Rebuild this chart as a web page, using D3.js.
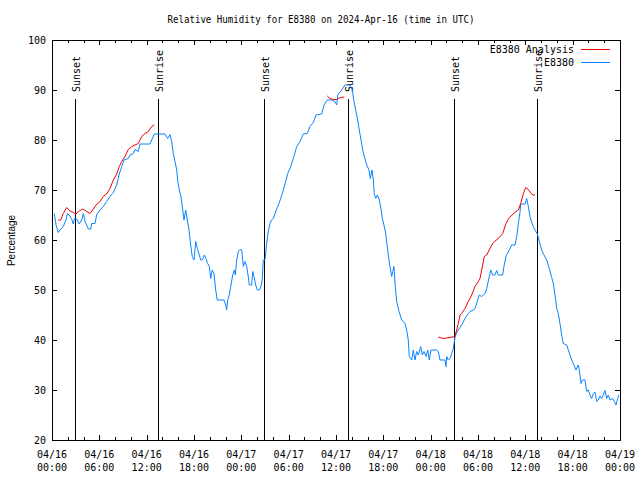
<!DOCTYPE html>
<html>
<head>
<meta charset="utf-8">
<script src="https://cdn.jsdelivr.net/npm/d3@7"></script>
<style>
  html, body { margin: 0; padding: 0; background: #fff; }
  svg { display: block; }
  text { font-family: "DejaVu Sans Mono", "Liberation Mono", monospace; font-size: 10px; fill: #000; }
</style>
</head>
<body>
<svg id="chart" width="640" height="480"></svg>
<script>
// ---------- DATA ----------
const chartTitle = "Relative Humidity for E8380 on 2024-Apr-16 (time in UTC)";
const yTitle = "Percentage";
const seriesNames = ["E8380 Analysis", "E8380"];
const startUTC = Date.UTC(2024, 3, 16, 0, 0);
const endUTC = Date.UTC(2024, 3, 19, 0, 0);
const yTicks = [20, 30, 40, 50, 60, 70, 80, 90, 100];

// observations: hours after 04/16 00:00 UTC, RH %
const obsHours = [0.29,0.51,0.80,1.01,1.43,1.77,1.94,2.19,2.50,2.70,2.83,3.13,3.46,3.76,3.97,4.18,4.40,4.60,4.91,5.03,5.45,5.67,6.08,6.50,6.93,7.35,7.77,8.20,8.49,8.84,9.13,9.67,9.89,10.31,10.52,10.94,11.15,12.42,12.64,12.97,14.32,14.66,14.96,15.17,15.38,15.59,15.81,15.93,16.14,16.35,16.52,16.73,16.95,17.15,17.37,17.58,17.78,18.00,18.22,18.42,18.67,18.85,19.10,19.31,19.52,19.74,19.94,20.12,20.32,20.53,20.75,20.95,21.80,22.02,22.14,22.27,22.47,22.69,22.91,23.11,23.24,23.41,23.62,23.83,24.05,24.25,24.46,24.68,24.88,25.01,25.31,25.44,25.61,25.82,26.02,26.28,26.49,26.66,26.78,27.00,27.21,27.42,27.63,27.82,28.05,28.43,28.77,29.03,29.32,29.62,29.88,30.17,30.59,31.02,31.44,31.85,32.36,32.70,33.12,33.46,34.19,34.48,34.90,35.45,35.87,36.09,36.21,36.72,37.14,37.77,38.07,38.28,38.53,38.75,38.95,39.17,39.38,39.59,39.89,40.18,40.35,40.56,40.73,40.85,41.03,41.24,41.49,41.70,41.87,42.08,42.30,42.50,42.68,42.84,43.06,43.19,43.35,43.48,43.69,43.99,44.33,44.75,44.96,45.16,45.29,45.60,45.80,46.01,46.23,46.43,46.74,46.94,47.15,47.41,47.62,47.83,48.04,48.76,48.97,49.18,49.82,49.94,50.03,50.23,50.45,50.67,50.87,51.08,51.30,51.50,51.93,52.35,52.77,52.98,53.40,53.62,53.83,54.16,54.47,54.89,55.10,55.43,55.61,55.86,56.15,56.37,56.57,57.13,57.29,57.55,57.97,58.27,58.69,58.91,59.11,59.32,59.41,59.96,60.17,60.38,60.59,60.81,61.01,61.23,61.52,61.77,62.07,62.37,62.71,63.04,63.34,63.55,63.76,63.98,64.18,64.39,64.61,64.81,65.24,65.45,65.66,65.88,66.08,66.42,66.71,66.84,67.06,67.22,67.56,67.78,67.98,68.20,68.41,68.62,68.83,69.05,69.25,69.46,69.68,69.88,70.10,70.31,70.52,70.73,71.07,71.28,71.49,71.70,71.87];
const obsRH = [65.3,63,61.5,62,62.7,64,65.3,65,64.1,63.2,64.3,64.2,63.2,64,65.3,63.7,63,62.2,62.2,63.3,63.3,65.1,66,66.7,67.7,68.7,69.5,71,73,74.7,76,76.3,77,77.3,78.1,77.7,79.2,79.2,80,81.2,81.2,80.3,81.1,79.7,77.3,75.7,74,72,70,68.7,66.7,64,66,64,62,59,56.7,56,59.7,58.3,57,56,56.1,57,56.3,55.3,54.7,52.3,54,53.3,50,48,48,47,46,48,49,51,53,54,53,56,57.7,58.1,58,54.7,55.7,54.7,52.7,51,51,53.7,52.7,51,50,50,50.7,52.3,56,56,59.3,61.8,63.3,64,64.3,66,67.3,68.5,70,71.7,73.3,74.3,76.3,78.7,79.7,81.2,81.3,82.7,83.5,85,85.2,87,88,88,87.7,87,89,90,91,91,90,87.7,85.7,84,82,80,78,76.7,75,74,72.3,74,72,69.3,68.3,69,68,66.3,64.3,63,61.3,58.7,56.3,54.7,52.7,53.7,54.7,51.3,47.7,45.7,44,43.3,42,40,36.7,36,38,36,37.7,37,38.7,37,37.7,36.7,38,36,38,38,37.7,36,36,34.7,36.7,36,36.3,37.3,38.3,40.5,41.5,42,43,44.3,45.3,45.7,46,46.3,47.3,49,48.7,49.3,50.3,52.7,54,53,53,53.9,53,53,54.7,56.8,58,59,59,60.7,63.3,65.5,67.2,67.2,68.3,66.7,64.7,63.5,62.7,62,61.2,59.7,58,57,56,54.3,52.5,51.3,49,46.3,45.3,43.3,41,39.3,39,38,37,36,35.3,34,35,34,31.3,32,32,29.7,30,29,28.3,29.3,29.6,27.7,28,28.8,28.3,29,29.9,28.3,29,28,28.3,27.7,27,28.3,29];

// analysis: three separate runs
const anaHours1 = [0.80,1.10,1.43,1.86,2.28,2.70,3.04,3.46,3.89,4.31,4.82,5.16,5.58,6.08,6.50,6.93,7.35,7.77,8.20,8.53,8.84,9.25,9.67,10.10,10.52,10.94,11.37,11.79,12.21,12.64,12.97];
const anaRH1 = [64,64,65.3,66.5,65.8,65.5,65.2,65.8,66.2,65.8,65.3,66,67,67.7,68.7,69.2,70.3,72,73.2,74.7,75.7,76.7,78.1,78.7,79,79.3,80.7,81.3,81.7,82.7,83];
const anaHours2 = [34.90,35.24,35.66,36.09,36.51,37.05];
const anaRH2 = [88.8,88.3,88.1,88.1,88.5,88.6];
const anaHours3 = [48.97,49.60,50.45,51.05,51.30,51.50,51.72,51.93,52.35,52.77,53.20,53.62,54.04,54.25,54.47,54.80,55.10,55.52,55.94,56.57,57.13,57.55,57.97,58.69,59.11,59.41,59.75,60.05,60.38,60.72,61.01,61.23];
const anaRH3 = [40.6,40.3,40.5,40.7,42,43.3,45,45.3,46.3,47.7,49,50.7,51.7,52.3,54,56.7,57,58.3,59.5,60.3,61.3,63.3,64.5,65.5,66,67.3,69.3,70.5,70.1,69.3,69,69];

// sun events: hours after 04/16 00:00 UTC
const sunLabels = ["Sunset", "Sunrise", "Sunset", "Sunrise", "Sunset", "Sunrise"];
const sunHours = [2.92, 13.48, 26.92, 37.55, 51.0, 61.52];
const sunLineTop = 88.2;

const colors = ["#f00000", "#0a84ff"];

// ---------- CHART ----------
const svg = d3.select("#chart");
const M = { left: 52, right: 620, top: 40, bottom: 440 };
const toDate = h => new Date(startUTC + h * 3600e3);

const x = d3.scaleUtc().domain([new Date(startUTC), new Date(endUTC)]).range([M.left, M.right]);
const y = d3.scaleLinear().domain([20, 100]).range([M.bottom, M.top]);

// title
svg.append("text").attr("x", 321).attr("y", 23).attr("text-anchor", "middle")
  .attr("textLength", 307).attr("lengthAdjust", "spacingAndGlyphs").text(chartTitle);

// y title
svg.append("text").attr("transform", `translate(15,${(M.top + M.bottom) / 2 + 0.5}) rotate(-90)`)
  .attr("text-anchor", "middle").style("font-family", "'Liberation Sans', Arial, sans-serif")
  .text(yTitle);

// ticks
const majorT = x.ticks(d3.utcHour.every(6));
const minorT = x.ticks(d3.utcHour.every(2)).filter(d => d.getUTCHours() % 6 !== 0);

const gx = svg.append("g").attr("transform", `translate(0,${M.bottom})`)
  .call(d3.axisBottom(x).tickValues(majorT).tickSize(-5).tickSizeOuter(0).tickFormat(""));
gx.select(".domain").remove();
const gxm = svg.append("g").attr("transform", `translate(0,${M.bottom})`)
  .call(d3.axisBottom(x).tickValues(minorT).tickSize(-3).tickSizeOuter(0).tickFormat(""));
gxm.select(".domain").remove();
const gxt = svg.append("g").attr("transform", `translate(0,${M.top})`)
  .call(d3.axisTop(x).tickValues(majorT).tickSize(-5).tickSizeOuter(0).tickFormat(""));
gxt.select(".domain").remove();
const gxtm = svg.append("g").attr("transform", `translate(0,${M.top})`)
  .call(d3.axisTop(x).tickValues(minorT).tickSize(-3).tickSizeOuter(0).tickFormat(""));
gxtm.select(".domain").remove();

const fmtD = d3.utcFormat("%m/%d"), fmtH = d3.utcFormat("%H:%M");
const xl = svg.append("g");
majorT.forEach(d => {
  xl.append("text").attr("x", x(d)).attr("y", 457.5).attr("text-anchor", "middle").text(fmtD(d));
  xl.append("text").attr("x", x(d)).attr("y", 470.5).attr("text-anchor", "middle").text(fmtH(d));
});

const gy = svg.append("g").attr("transform", `translate(${M.left},0)`)
  .call(d3.axisLeft(y).tickValues(yTicks).tickSize(-5).tickSizeOuter(0).tickFormat(""));
gy.select(".domain").remove();
const gyr = svg.append("g").attr("transform", `translate(${M.right},0)`)
  .call(d3.axisRight(y).tickValues(yTicks).tickSize(-5).tickSizeOuter(0).tickFormat(""));
gyr.select(".domain").remove();
yTicks.forEach(v => {
  svg.append("text").attr("x", 46).attr("y", y(v) + 3.5).attr("text-anchor", "end").text(v);
});
svg.selectAll(".tick line").attr("stroke", "#000").attr("shape-rendering", "crispEdges");

// sun lines
sunHours.forEach((h, i) => {
  const px = Math.round(x(toDate(h))) + 0.5;
  svg.append("line").attr("x1", px).attr("x2", px).attr("y1", y(sunLineTop)).attr("y2", M.bottom)
    .attr("stroke", "#000").attr("stroke-width", 1).attr("shape-rendering", "crispEdges");
  svg.append("text").attr("transform", `translate(${px + 4.5},92) rotate(-90)`)
    .attr("text-anchor", "start").text(sunLabels[i]);
});

// lines
const line = d3.line().x(d => x(toDate(d[0]))).y(d => y(d[1]));
const obs = d3.zip(obsHours, obsRH);
svg.append("path").datum(obs).attr("d", line).attr("fill", "none").attr("stroke", colors[1]).attr("stroke-width", 1);
[[anaHours1, anaRH1], [anaHours2, anaRH2], [anaHours3, anaRH3]].forEach(([h, v]) => {
  svg.append("path").datum(d3.zip(h, v)).attr("d", line).attr("fill", "none").attr("stroke", colors[0]).attr("stroke-width", 1);
});

// border
svg.append("rect").attr("x", M.left + 0.5).attr("y", M.top + 0.5)
  .attr("width", M.right - M.left).attr("height", M.bottom - M.top)
  .attr("fill", "none").attr("stroke", "#000").attr("shape-rendering", "crispEdges");

// legend
const lg = svg.append("g");
seriesNames.forEach((n, i) => {
  const ly = 49.5 + i * 12.5;
  lg.append("text").attr("x", 574).attr("y", ly + 3.5).attr("text-anchor", "end").text(n);
  lg.append("line").attr("x1", 581).attr("x2", 610).attr("y1", ly).attr("y2", ly)
    .attr("stroke", colors[i]).attr("stroke-width", 1).attr("shape-rendering", "crispEdges");
});
</script>
</body>
</html>
